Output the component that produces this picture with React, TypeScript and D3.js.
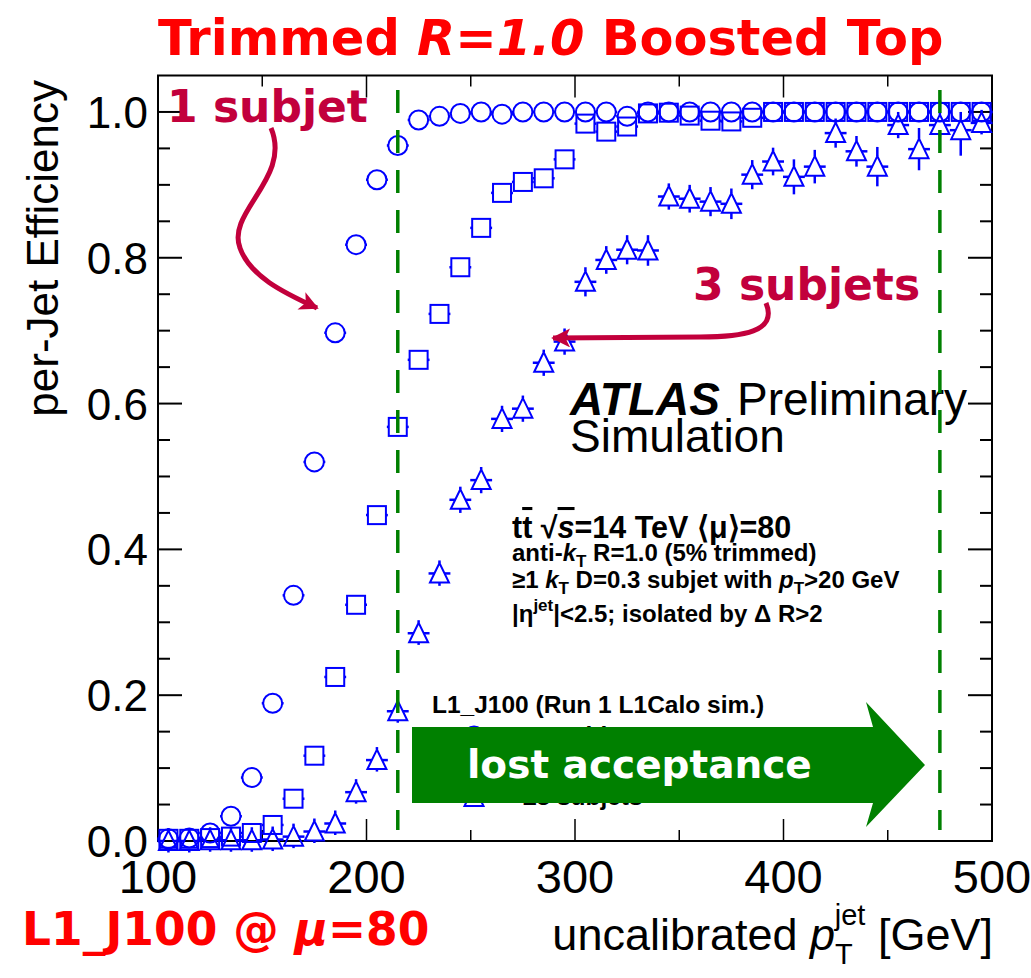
import { useEffect, useRef } from "react";
import * as d3 from "d3";

// bin centres (GeV), 10 GeV bins
const ptBins = [
  105, 115, 125, 135, 145, 155, 165, 175, 185, 195,
  205, 215, 225, 235, 245, 255, 265, 275, 285, 295,
  305, 315, 325, 335, 345, 355, 365, 375, 385, 395,
  405, 415, 425, 435, 445, 455, 465, 475, 485, 495,
];

// >=1 subjet (open circles)
const eff1 = [
  0.003, 0.004, 0.011, 0.034, 0.087, 0.189, 0.337, 0.52, 0.697, 0.818,
  0.907, 0.954, 0.989, 0.994, 0.998, 1.0, 0.997, 1.0, 1.0, 1.0,
  1.0, 1.0, 0.994, 1.0, 1.0, 1.0, 1.0, 1.0, 1.0, 1.0,
  1.0, 1.0, 1.0, 1.0, 1.0, 1.0, 1.0, 1.0, 1.0, 1.0,
];

// >=2 subjets (open squares)
const eff2 = [
  0.003, 0.003, 0.004, 0.006, 0.011, 0.022, 0.058, 0.117, 0.225, 0.324,
  0.447, 0.568, 0.66, 0.723, 0.787, 0.841, 0.889, 0.904, 0.909, 0.935,
  0.984, 0.973, 0.98, 0.998, 0.999, 0.995, 0.988, 0.987, 0.992, 1.0,
  1.0, 1.0, 1.0, 1.0, 1.0, 1.0, 1.0, 1.0, 1.0, 1.0,
];

// >=3 subjets (open triangles) and their vertical errors
const eff3 = [
  0.0, 0.0, 0.001, 0.001, 0.001, 0.002, 0.006, 0.013, 0.024, 0.067,
  0.111, 0.178, 0.285, 0.367, 0.468, 0.495, 0.579, 0.593, 0.656, 0.685,
  0.767, 0.797, 0.811, 0.81, 0.884, 0.881, 0.877, 0.874, 0.914, 0.932,
  0.911, 0.925, 0.971, 0.946, 0.925, 0.982, 0.949, 0.982, 0.975, 0.985,
];
const err3 = [
  0.002, 0.002, 0.002, 0.002, 0.003, 0.004, 0.006, 0.008, 0.01, 0.012,
  0.014, 0.015, 0.016, 0.017, 0.018, 0.018, 0.018, 0.018, 0.018, 0.018,
  0.02, 0.019, 0.02, 0.021, 0.018, 0.019, 0.02, 0.021, 0.02, 0.019,
  0.024, 0.023, 0.02, 0.021, 0.027, 0.018, 0.029, 0.015, 0.035, 0.015,
];

const xTicks = [100, 200, 300, 400, 500];
const yTicks = [0, 0.2, 0.4, 0.6, 0.8, 1.0];
const legendEntries = ["\u22651 subjet", "\u22652 subjets", "\u22653 subjets"];
const cutLines = [215, 475];

type Part = { t: string; italic?: boolean; size?: number; dx?: number; dy?: number; over?: boolean };

export default function App() {
  const svgRef = useRef<SVGSVGElement>(null);

  useEffect(() => {
    if (!svgRef.current) return;
    document.body.style.margin = "0";

    const svg = d3.select(svgRef.current);
    svg.selectAll("*").remove();

    const width = 1031;
    const height = 978;
    svg.attr("width", width).attr("height", height);

    const x = d3.scaleLinear().domain([100, 500]).range([158, 992]);
    const y = d3.scaleLinear().domain([0, 1.05]).range([841, 75.5]);

    const sans = "'Liberation Sans', Arial, Helvetica, sans-serif";
    const dejavu = "'DejaVu Sans', sans-serif";
    const blue = "#0000ff";
    const green = "#008000";
    const crimson = "#c2003c";

    const rich = (
      g: d3.Selection<SVGGElement, unknown, null, undefined>,
      px: number, py: number, size: number, weight: string, family: string, fill: string, parts: Part[],
      anchor = "start"
    ) => {
      const t = g.append("text")
        .attr("x", px).attr("y", py)
        .style("font-family", family)
        .style("font-size", `${size}px`)
        .style("font-weight", weight)
        .style("fill", fill)
        .attr("text-anchor", anchor);
      parts.forEach((p) => {
        const s = t.append("tspan").text(p.t);
        if (p.italic) s.style("font-style", "italic");
        if (p.size) s.style("font-size", `${p.size}px`);
        if (p.dx) s.attr("dx", p.dx);
        if (p.dy) s.attr("dy", p.dy);
        if (p.over) s.style("text-decoration", "overline");
      });
      return t;
    };

    const root = svg.append("g");

    // Frame
    const [x0, x1] = x.range();
    const [y0, y1] = y.range();
    root.append("rect")
      .attr("x", x0).attr("y", y1)
      .attr("width", x1 - x0).attr("height", y0 - y1)
      .style("fill", "none").style("stroke", "#000").style("stroke-width", 2);

    // X ticks (bottom and top)
    d3.range(100, 501, 50).forEach((v) => {
      const major = v % 100 === 0;
      const len = major ? 22 : 11;
      root.append("line").attr("x1", x(v)).attr("x2", x(v)).attr("y1", y0).attr("y2", y0 - len)
        .style("stroke", "#000").style("stroke-width", 1.5);
      root.append("line").attr("x1", x(v)).attr("x2", x(v)).attr("y1", y1).attr("y2", y1 + len)
        .style("stroke", "#000").style("stroke-width", 1.5);
    });
    // Y ticks (left and right)
    d3.range(0, 21).map((i) => i * 0.05).forEach((v, i) => {
      const major = i % 4 === 0;
      const len = major ? 24 : 12;
      root.append("line").attr("x1", x0).attr("x2", x0 + len).attr("y1", y(v)).attr("y2", y(v))
        .style("stroke", "#000").style("stroke-width", 2);
      root.append("line").attr("x1", x1).attr("x2", x1 - len).attr("y1", y(v)).attr("y2", y(v))
        .style("stroke", "#000").style("stroke-width", 2);
    });

    // Tick labels
    root.selectAll(".ylab").data(yTicks).enter().append("text")
      .attr("x", 148).attr("y", (d) => y(d) + 16)
      .attr("text-anchor", "end")
      .style("font-family", sans).style("font-size", "44px")
      .text((d) => d.toFixed(1));
    root.selectAll(".xlab").data(xTicks).enter().append("text")
      .attr("x", (d) => x(d)).attr("y", 893)
      .attr("text-anchor", "middle")
      .style("font-family", sans).style("font-size", "47px")
      .text((d) => String(d));

    // Axis titles
    root.append("text")
      .attr("transform", "translate(58,80) rotate(-90)")
      .attr("text-anchor", "end")
      .style("font-family", sans).style("font-size", "44px")
      .text("per-Jet Efficiency");
    rich(root, 993, 950, 45, "normal", sans, "#000", [
      { t: "uncalibrated " },
      { t: "p", italic: true },
      { t: "T", size: 29, dy: 14 },
      { t: "jet", size: 29, dx: -18, dy: -39 },
      { t: " [GeV]", dy: 25 },
    ], "end");

    // Markers
    const hw = x(105) - x(100);
    const bars = root.append("g").style("stroke", blue).style("stroke-width", 2.5);
    const hbar = (cx: number, cy: number, inner: number) => {
      bars.append("line").attr("x1", cx - hw - 0.5).attr("x2", cx - inner).attr("y1", cy).attr("y2", cy);
      bars.append("line").attr("x1", cx + inner).attr("x2", cx + hw + 0.5).attr("y1", cy).attr("y2", cy);
    };
    const tri = (cx: number, cy: number) =>
      `M${cx},${cy - 10.5} L${cx - 9.5},${cy + 9} L${cx + 9.5},${cy + 9} Z`;

    const marks = root.append("g").style("fill", "none").style("stroke", blue).style("stroke-width", 2);

    ptBins.forEach((pt, i) => {
      const cx = x(pt);
      // squares
      const cy2 = y(eff2[i]);
      marks.append("rect").attr("x", cx - 9).attr("y", cy2 - 9).attr("width", 18).attr("height", 18);
      hbar(cx, cy2, 9);
      // triangles
      const cy3 = y(eff3[i]);
      marks.append("path").attr("d", tri(cx, cy3));
      hbar(cx, cy3, 5);
      const top = Math.min(y(Math.min(eff3[i] + err3[i], 1.0)), cy3 - 13);
      const bot = Math.max(y(eff3[i] - err3[i]), cy3 + 11.5);
      bars.append("line").attr("x1", cx).attr("x2", cx).attr("y1", top).attr("y2", cy3 - 10.5);
      bars.append("line").attr("x1", cx).attr("x2", cx).attr("y1", cy3 + 9).attr("y2", bot);
      // circles
      const cy1 = y(eff1[i]);
      marks.append("circle").attr("cx", cx).attr("cy", cy1).attr("r", 9.5);
      hbar(cx, cy1, 9.5);
    });

    // Annotation text
    rich(root, 570, 415, 46, "bold", sans, "#000", [{ t: "ATLAS", italic: true }]);
    root.append("text").attr("x", 737).attr("y", 415)
      .style("font-family", sans).style("font-size", "46px").text("Preliminary");
    root.append("text").attr("x", 570).attr("y", 452)
      .style("font-family", sans).style("font-size", "46px").text("Simulation");

    rich(root, 512, 538, 30.5, "bold", sans, "#000", [
      { t: "t" }, { t: "t", over: true }, { t: " \u221A" }, { t: "s", italic: true, over: true },
      { t: "=14 TeV \u27E8\u03BC\u27E9=80" },
    ]);
    rich(root, 512, 561, 24, "bold", sans, "#000", [
      { t: "anti-" }, { t: "k", italic: true }, { t: "T", size: 17, dy: 6 },
      { t: " R=1.0 (5% trimmed)", dy: -6 },
    ]);
    rich(root, 512, 588, 24, "bold", sans, "#000", [
      { t: "\u22651 " }, { t: "k", italic: true }, { t: "T", size: 17, dy: 6 },
      { t: " D=0.3 subjet with ", dy: -6 }, { t: "p", italic: true },
      { t: "T", size: 17, dy: 6 }, { t: ">20 GeV", dy: -6 },
    ]);
    rich(root, 512, 622, 24, "bold", sans, "#000", [
      { t: "|\u03B7" }, { t: "jet", size: 17, dy: -11 },
      { t: "|<2.5; isolated by \u0394 R>2", dy: 11 },
    ]);

    // Legend
    root.append("text").attr("x", 432).attr("y", 713)
      .style("font-family", sans).style("font-size", "24.5px").style("font-weight", "bold")
      .text("L1_J100 (Run 1 L1Calo sim.)");
    legendEntries.forEach((lab, i) => {
      const ly = 736 + i * 30.5;
      if (i === 0) marks.append("circle").attr("cx", 474).attr("cy", ly).attr("r", 9.5);
      if (i === 1) marks.append("rect").attr("x", 465).attr("y", ly - 9).attr("width", 18).attr("height", 18);
      if (i === 2) marks.append("path").attr("d", tri(474, ly));
      root.append("text").attr("x", 523).attr("y", ly + 8)
        .style("font-family", sans).style("font-size", "24.5px").style("font-weight", "bold")
        .text(lab);
    });

    // Green "lost acceptance" arrow
    root.append("path")
      .attr("d", "M412,727 L873,727 L866,702 L925,765 L866,827 L873,803 L412,803 Z")
      .style("fill", green);
    root.append("text").attr("x", 467).attr("y", 778)
      .style("font-family", dejavu).style("font-size", "39px").style("font-weight", "bold")
      .style("fill", "#fff").text("lost acceptance");

    // Dashed cut lines
    cutLines.forEach((c) => {
      root.append("line").attr("x1", x(c)).attr("x2", x(c)).attr("y1", 90).attr("y2", 830)
        .style("stroke", green).style("stroke-width", 3.5).style("stroke-dasharray", "23 17");
    });

    // Crimson callouts
    const defs = svg.append("defs");
    defs.append("marker").attr("id", "redhead")
      .attr("viewBox", "0 0 10 10").attr("refX", 9).attr("refY", 5)
      .attr("markerUnits", "userSpaceOnUse").attr("markerWidth", 27).attr("markerHeight", 19)
      .attr("orient", "auto")
      .append("path").attr("d", "M0,0 L10,5 L0,10 L2.5,5 Z").style("fill", crimson);

    root.append("path")
      .attr("d", "M271,128 C292,178 226,212 240,248 C250,276 282,292 317,308")
      .style("fill", "none").style("stroke", crimson).style("stroke-width", 5)
      .attr("marker-end", "url(#redhead)");
    root.append("path")
      .attr("d", "M766,303 C778,332 742,337 700,337 L553,338")
      .style("fill", "none").style("stroke", crimson).style("stroke-width", 5)
      .attr("marker-end", "url(#redhead)");
    root.append("text").attr("x", 167).attr("y", 122)
      .style("font-family", dejavu).style("font-size", "44px").style("font-weight", "bold")
      .style("fill", crimson).text("1 subjet");
    root.append("text").attr("x", 693).attr("y", 300)
      .style("font-family", dejavu).style("font-size", "44px").style("font-weight", "bold")
      .style("fill", crimson).text("3 subjets");

    // Red headline texts
    rich(root, 158, 55, 49.5, "bold", dejavu, "#ff0000", [
      { t: "Trimmed " }, { t: "R", italic: true }, { t: "=" }, { t: "1.0", italic: true },
      { t: " Boosted Top" },
    ]);
    rich(root, 22, 945, 45.5, "bold", dejavu, "#ff0000", [
      { t: "L1_J100 @ " }, { t: "\u03BC", italic: true }, { t: "=80" },
    ]);
  }, []);

  return <svg ref={svgRef} style={{ display: "block" }}></svg>;
}
